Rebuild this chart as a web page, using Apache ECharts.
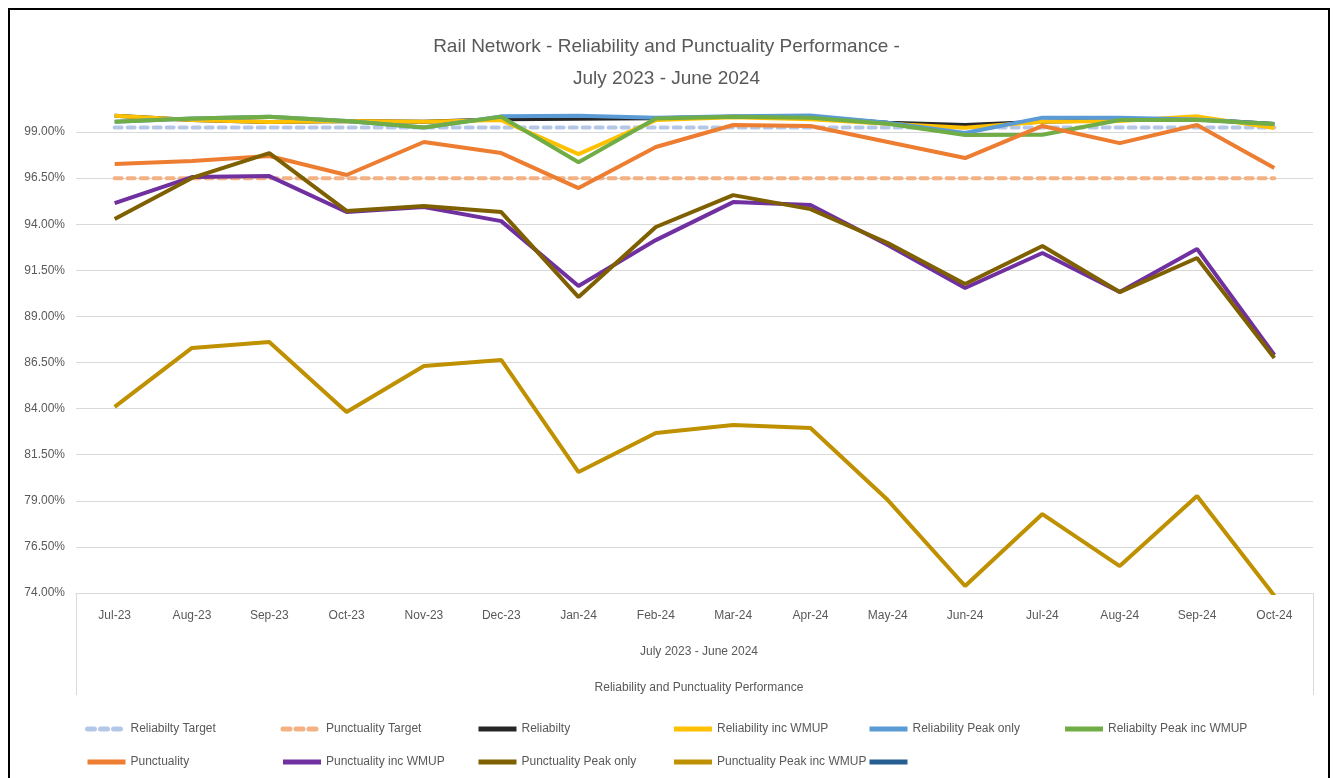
<!DOCTYPE html>
<html>
<head>
<meta charset="utf-8">
<title>Rail Network - Reliability and Punctuality Performance</title>
<script src="https://cdn.jsdelivr.net/npm/echarts@6/dist/echarts.min.js"></script>
<style>
    html, body { margin: 0; padding: 0; background: #fff; }
    #chart { width: 1333px; height: 778px; }
</style>
</head>
<body>
<div id="chart"></div>
<script>
    // categories
    var months = ['Jul-23', 'Aug-23', 'Sep-23', 'Oct-23', 'Nov-23', 'Dec-23', 'Jan-24', 'Feb-24',
        'Mar-24', 'Apr-24', 'May-24', 'Jun-24', 'Jul-24', 'Aug-24', 'Sep-24', 'Oct-24'];

    // series values (%)
    var reliabilityTarget = [99.25, 99.25, 99.25, 99.25, 99.25, 99.25, 99.25, 99.25, 99.25, 99.25, 99.25, 99.25, 99.25, 99.25, 99.25, 99.25];
    var punctualityTarget = [96.5, 96.5, 96.5, 96.5, 96.5, 96.5, 96.5, 96.5, 96.5, 96.5, 96.5, 96.5, 96.5, 96.5, 96.5, 96.5];
    var reliability = [99.88, 99.65, 99.54, 99.60, 99.56, 99.70, 99.72, 99.75, 99.83, 99.80, 99.50, 99.38, 99.56, 99.65, 99.70, 99.43];
    var reliabilityWmup = [99.88, 99.65, 99.54, 99.60, 99.56, 99.65, 97.80, 99.65, 99.80, 99.70, 99.45, 99.23, 99.56, 99.60, 99.85, 99.22];
    var reliabilityPeak = [99.56, 99.74, 99.83, 99.60, 99.25, 99.85, 99.88, 99.78, 99.85, 99.90, 99.50, 98.95, 99.78, 99.78, 99.68, 99.43];
    var reliabilityPeakWmup = [99.56, 99.74, 99.83, 99.60, 99.25, 99.83, 97.36, 99.74, 99.83, 99.78, 99.45, 98.84, 98.85, 99.65, 99.65, 99.43];
    var punctuality = [97.26, 97.43, 97.70, 96.67, 98.46, 97.86, 95.96, 98.19, 99.38, 99.33, 98.46, 97.59, 99.33, 98.40, 99.38, 97.05];
    var punctualityWmup = [95.15, 96.56, 96.61, 94.66, 94.93, 94.17, 90.65, 93.14, 95.20, 95.04, 92.87, 90.54, 92.44, 90.32, 92.66, 86.91];
    var punctualityPeak = [94.28, 96.51, 97.86, 94.72, 94.99, 94.66, 90.05, 93.85, 95.58, 94.82, 92.98, 90.76, 92.82, 90.32, 92.17, 86.74];
    var punctualityPeakWmup = [84.09, 87.29, 87.61, 83.82, 86.31, 86.64, 80.56, 82.68, 83.11, 82.95, 79.04, 74.38, 78.28, 75.46, 79.26, 73.85];

    // legend rows
    var legendRow1 = ['Reliabilty Target', 'Punctuality Target', 'Reliabilty', 'Reliability inc WMUP',
        'Reliability Peak only', 'Reliabilty Peak inc WMUP'];
    var legendRow2 = ['Punctuality', 'Punctuality inc WMUP', 'Punctuality Peak only', 'Punctuality Peak inc WMUP', ' '];

    // y axis ticks
    var yMin = 74;
    var yMax = 100;
    var yStep = 2.5;

    var font = '"Liberation Sans", Arial, sans-serif';
    var textColor = '#595959';
    var gridColor = '#D9D9D9';

    function line(name, data, color, dashed) {
        return {
            name: name,
            type: 'line',
            data: data,
            symbol: 'none',
            clip: true,
            lineStyle: {
                color: color,
                width: 4,
                type: dashed ? [7, 6] : 'solid',
                cap: dashed ? 'round' : 'butt'
            },
            itemStyle: {color: color},
            animation: false
        }
    }

    function legendRow(names, top) {
        return {
            left: 85,
            top: top,
            padding: 0,
            itemWidth: 38,
            itemHeight: 10,
            itemGap: 0,
            formatter: '{a|{name}}',
            itemStyle: {opacity: 0},
            lineStyle: {width: 5},
            textStyle: {
                color: textColor,
                fontFamily: font,
                fontSize: 12,
                width: 150,
                rich: {a: {width: 150, lineHeight: 16, fontFamily: font, fontSize: 12, color: textColor}}
            },
            data: names
        }
    }

    var chart = echarts.init(document.getElementById('chart'));
    chart.setOption({
        backgroundColor: '#fff',
        title: [{
            text: 'Rail Network - Reliability and Punctuality Performance -\nJuly 2023 - June 2024',
            left: 'center',
            top: 26,
            textStyle: {fontFamily: font, fontSize: 19, fontWeight: 'normal', color: textColor, lineHeight: 32}
        }, {
            text: 'July 2023 - June 2024',
            left: 694,
            textAlign: 'center',
            top: 641,
            textStyle: {fontFamily: font, fontSize: 12, fontWeight: 'normal', color: textColor}
        }, {
            text: 'Reliability and Punctuality Performance',
            left: 694,
            textAlign: 'center',
            top: 677,
            textStyle: {fontFamily: font, fontSize: 12, fontWeight: 'normal', color: textColor}
        }],
        grid: {left: 76, right: 20, top: 113.6, bottom: 185},
        legend: [legendRow(legendRow1, 723), legendRow(legendRow2, 756)],
        xAxis: {
            type: 'category',
            data: months,
            boundaryGap: true,
            axisLine: {show: true, lineStyle: {color: gridColor, width: 1}},
            axisTick: {show: false},
            axisLabel: {color: textColor, fontFamily: font, fontSize: 12, margin: 17, interval: 0}
        },
        yAxis: {
            type: 'value',
            min: yMin,
            max: yMax,
            interval: yStep,
            axisLine: {show: false},
            axisTick: {show: false},
            axisLabel: {
                color: textColor, fontFamily: font, fontSize: 12, margin: 11, showMaxLabel: false,
                formatter: function (v) {
                    return v.toFixed(2) + '%'
                }
            },
            splitLine: {show: true, showMaxLine: false, lineStyle: {color: gridColor, width: 1}}
        },
        graphic: [{
            type: 'rect',
            shape: {x: 9, y: 9, width: 1320, height: 800},
            style: {fill: 'none', stroke: '#000', lineWidth: 2},
            silent: true
        }, {
            type: 'line',
            shape: {x1: 76.5, y1: 593, x2: 76.5, y2: 695},
            style: {stroke: gridColor, lineWidth: 1}
        }, {
            type: 'line',
            shape: {x1: 1313.5, y1: 593, x2: 1313.5, y2: 695},
            style: {stroke: gridColor, lineWidth: 1}
        }],
        series: [
            line('Reliabilty Target', reliabilityTarget, '#B4C7E7', true),
            line('Punctuality Target', punctualityTarget, '#F4B183', true),
            line('Reliabilty', reliability, '#262626'),
            line('Reliability inc WMUP', reliabilityWmup, '#FFC000'),
            line('Reliability Peak only', reliabilityPeak, '#5B9BD5'),
            line('Reliabilty Peak inc WMUP', reliabilityPeakWmup, '#70AD47'),
            line('Punctuality', punctuality, '#ED7D31'),
            line('Punctuality inc WMUP', punctualityWmup, '#7030A0'),
            line('Punctuality Peak only', punctualityPeak, '#7F6000'),
            line('Punctuality Peak inc WMUP', punctualityPeakWmup, '#BF9000'),
            line(' ', [], '#255E91')
        ]
    });
</script>
</body>
</html>
